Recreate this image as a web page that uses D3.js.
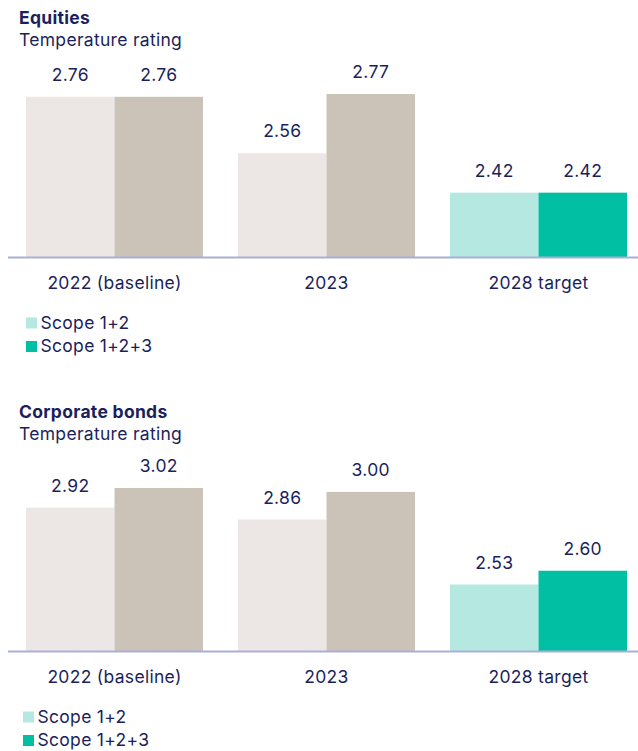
<!doctype html>
<html>
<head>
    <title>Temperature rating</title>
    <script src="https://d3js.org/d3.v7.min.js"></script>
    <style>
        body { margin: 0; background: #fff; }
        text { font-family: Inter, "Noto Sans", sans-serif; fill: #1b1f5c; letter-spacing: 0.3px; }
    </style>
</head>
<body>
<svg width="638" height="751"></svg>
<script>
    // data
    var categories = ["2022 (baseline)", "2023", "2028 target"];
    var seriesNames = ["Scope 1+2", "Scope 1+2+3"];
    var equitiesScope12 = [2.76, 2.56, 2.42];
    var equitiesScope123 = [2.76, 2.77, 2.42];
    var bondsScope12 = [2.92, 2.86, 2.53];
    var bondsScope123 = [3.02, 3.00, 2.60];

    // past years are beige, the target is teal
    var pastColors = ["#ece7e4", "#cbc3b8"];
    var targetColors = ["#b5e8e0", "#00bfa2"];

    var fontSize = "17.5px";

    var svg = d3.select("svg");

    var x0 = d3.scaleBand()
        .domain(categories)
        .range([8.5, 644.5])
        .paddingInner(0.165)
        .paddingOuter(0.0825);

    var x1 = d3.scaleBand()
        .domain(seriesNames)
        .range([0, x0.bandwidth()]);

    function drawPanel(top, title, s12, s123, legendX) {
        var g = svg.append("g").attr("transform", "translate(0," + top + ")");
        var baseY = 257.5;

        var rows = categories.map(function(c, i) {
            return { cat: c, values: [s12[i], s123[i]] };
        });

        var y = d3.scaleLinear()
            .domain([2.19, d3.max(s12.concat(s123))])
            .range([baseY, baseY - 163.5]);

        // titles
        g.append("text")
            .attr("x", 19).attr("y", 24)
            .style("font-size", fontSize)
            .style("font-weight", "700")
            .text(title);
        g.append("text")
            .attr("x", 19).attr("y", 45.5)
            .style("font-size", fontSize)
            .text("Temperature rating");

        var groups = g.selectAll(".grp")
            .data(rows)
            .enter().append("g")
            .attr("class", "grp")
            .attr("transform", function(d) { return "translate(" + x0(d.cat) + ",0)"; });

        groups.selectAll("rect")
            .data(function(d) {
                return d.values.map(function(v, j) { return { cat: d.cat, name: seriesNames[j], j: j, v: v }; });
            })
            .enter().append("rect")
            .attr("x", function(d) { return x1(d.name); })
            .attr("y", function(d) { return y(d.v); })
            .attr("width", x1.bandwidth())
            .attr("height", function(d) { return baseY - y(d.v); })
            .attr("fill", function(d) {
                return d.cat === "2028 target" ? targetColors[d.j] : pastColors[d.j];
            });

        groups.selectAll(".val")
            .data(function(d) {
                return d.values.map(function(v, j) { return { name: seriesNames[j], v: v }; });
            })
            .enter().append("text")
            .attr("class", "val")
            .attr("x", function(d) { return x1(d.name) + x1.bandwidth() / 2; })
            .attr("y", function(d) { return y(d.v) - 16; })
            .attr("text-anchor", "middle")
            .style("font-size", fontSize)
            .text(function(d) { return d3.format(".2f")(d.v); });

        // category axis
        var axis = g.append("g")
            .attr("transform", "translate(0," + baseY + ")")
            .call(d3.axisBottom(x0).tickSize(0));
        axis.select(".domain")
            .attr("d", "M8,0H638")
            .attr("stroke", "#a9afd6")
            .attr("stroke-width", 2);
        axis.selectAll("text")
            .attr("y", 31)
            .attr("dy", 0)
            .style("font-size", fontSize)
            .attr("fill", null);
        axis.attr("font-family", null).attr("font-size", null);

        // legend
        var legend = g.selectAll(".leg")
            .data(seriesNames)
            .enter().append("g")
            .attr("class", "leg")
            .attr("transform", function(d, i) { return "translate(" + legendX + "," + (317.5 + i * 23.5) + ")"; });
        legend.append("rect")
            .attr("width", 11).attr("height", 11)
            .attr("fill", function(d, i) { return targetColors[i]; });
        legend.append("text")
            .attr("x", 14.5).attr("y", 11)
            .style("font-size", fontSize)
            .text(function(d) { return d; });
    }

    drawPanel(0, "Equities", equitiesScope12, equitiesScope123, 26);
    drawPanel(394, "Corporate bonds", bondsScope12, bondsScope123, 23);
</script>
</body>
</html>
